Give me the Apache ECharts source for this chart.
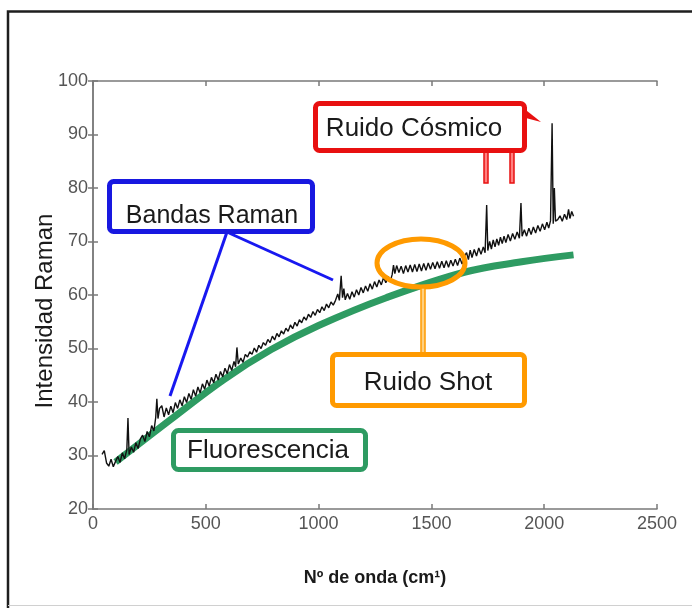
<!DOCTYPE html>
<html>
<head>
<meta charset="utf-8">
<script src="https://cdn.jsdelivr.net/npm/echarts@6/dist/echarts.min.js"></script>
<style>
  html, body { margin: 0; padding: 0; background: #fff; }
  #chart { width: 692px; height: 608px; }
</style>
</head>
<body>
<div id="chart"></div>
<script>
// Measured Raman spectrum (wavenumber in cm^-1, intensity)
const spectrumX = [
  40, 50, 60, 70, 80, 90, 100, 110, 120, 130, 140, 150, 155, 160, 170, 180, 190, 200, 210, 220,
  230, 240, 250, 260, 270, 278, 283, 288, 295, 305, 315, 325, 335, 345, 355, 365, 375, 385, 395, 405,
  415, 425, 435, 445, 455, 465, 475, 485, 495, 505, 515, 525, 535, 545, 555, 565, 575, 585, 595, 605,
  615, 625, 632, 638, 644, 655, 665, 675, 685, 695, 705, 715, 725, 735, 745, 755, 765, 775, 785, 795,
  805, 815, 825, 835, 845, 855, 865, 875, 885, 895, 905, 915, 925, 935, 945, 955, 965, 975, 985, 995,
  1005, 1015, 1025, 1035, 1045, 1055, 1065, 1075, 1085, 1092, 1100, 1106, 1112, 1118, 1128, 1138, 1148, 1158, 1168, 1178,
  1188, 1198, 1208, 1218, 1228, 1238, 1248, 1258, 1268, 1278, 1288, 1298, 1308, 1318, 1326, 1332, 1338, 1346, 1356, 1366,
  1376, 1386, 1396, 1406, 1416, 1426, 1436, 1446, 1456, 1466, 1476, 1486, 1496, 1506, 1516, 1526, 1536, 1546, 1556, 1566,
  1576, 1586, 1596, 1606, 1616, 1626, 1636, 1646, 1656, 1664, 1672, 1680, 1690, 1700, 1710, 1720, 1730, 1738, 1745, 1750,
  1758, 1766, 1774, 1782, 1790, 1798, 1806, 1814, 1822, 1830, 1840, 1850, 1860, 1870, 1880, 1890, 1897, 1902, 1912, 1922,
  1932, 1942, 1952, 1962, 1972, 1982, 1992, 2002, 2012, 2020, 2028, 2035, 2040, 2045, 2050, 2060, 2070, 2080, 2090, 2100,
  2108, 2114, 2122, 2130
];
const spectrumY = [
  30.2, 30.9, 28.6, 28.0, 29.3, 27.9, 28.9, 29.8, 28.7, 30.5, 29.4, 31.1, 37.0, 30.2, 31.6, 30.6, 32.4, 31.3, 33.1, 33.8,
  32.6, 34.5, 33.5, 35.6, 34.6, 37.1, 40.6, 36.9, 38.8, 39.3, 37.2, 38.9, 37.6, 39.2, 38.0, 39.9, 38.8, 40.4, 39.3, 41.0,
  39.9, 41.6, 40.5, 42.3, 41.1, 42.8, 41.7, 43.4, 42.4, 44.1, 43.0, 44.6, 43.6, 45.2, 44.1, 45.7, 44.7, 46.3, 45.3, 47.0,
  45.9, 47.6, 46.6, 50.2, 47.1, 48.2, 47.4, 48.9, 48.4, 49.4, 48.9, 50.1, 49.3, 50.6, 50.0, 51.1, 50.6, 51.7, 51.1, 52.3,
  51.6, 52.8, 52.2, 53.3, 52.7, 53.8, 53.2, 54.4, 53.7, 54.9, 54.2, 55.4, 54.8, 55.9, 55.3, 56.4, 55.8, 56.9, 56.2, 57.3,
  56.7, 57.8, 57.1, 58.3, 57.6, 58.7, 58.1, 59.0, 60.2, 59.0, 63.6, 59.5, 61.2, 59.1, 60.3, 59.2, 60.6, 59.6, 61.0, 60.0,
  61.4, 60.4, 61.7, 60.7, 62.1, 61.1, 62.5, 61.5, 62.8, 61.9, 63.3, 62.3, 63.5, 62.6, 63.8, 65.6, 64.0, 65.5, 64.2, 65.4,
  64.0, 65.5, 64.3, 65.6, 64.3, 65.7, 64.4, 65.8, 64.5, 65.9, 64.6, 66.0, 64.8, 66.1, 64.9, 66.2, 65.0, 66.3, 65.1, 66.4,
  65.2, 66.5, 65.4, 66.7, 65.5, 66.9, 65.8, 67.2, 67.9, 66.6, 68.4, 67.0, 68.5, 67.3, 68.8, 67.6, 69.0, 67.9, 76.8, 68.3,
  70.0, 68.6, 70.3, 69.0, 70.5, 69.3, 70.8, 69.6, 71.0, 69.8, 71.3, 70.1, 71.5, 70.4, 71.8, 70.6, 77.2, 71.0, 72.2, 71.0,
  72.5, 71.3, 72.7, 71.6, 73.0, 71.9, 73.3, 72.2, 73.6, 72.5, 73.9, 92.1, 73.3, 80.0, 73.8, 74.1, 74.8, 73.8, 75.1, 74.1,
  76.0, 74.3, 75.6, 74.7
];

// Fluorescence background estimate
const fluorX = [100, 340, 580, 790, 1000, 1300, 1650, 1900, 2130];
const fluorY = [28.8, 36.6, 44.2, 49.8, 54.3, 59.5, 64.3, 66.2, 67.5];

// Axis ticks
const xTicks = { min: 0, max: 2500, step: 500 };
const yTicks = { min: 20, max: 100, step: 10 };

const spectrum = spectrumX.map((x, i) => [x, spectrumY[i]]);
const fluorescence = fluorX.map((x, i) => [x, fluorY[i]]);

const FONT = '"Liberation Sans", Arial, sans-serif';
const AXIS_GRAY = '#7a7a7a';
const LABEL_GRAY = '#555';

function boxText(text, cx, cy, size) {
  return {
    type: 'text', z: 30,
    style: { text: text, x: cx, y: cy, fill: '#1a1a1a', font: size + 'px ' + FONT, textAlign: 'center', textVerticalAlign: 'middle' }
  };
}

const chart = echarts.init(document.getElementById('chart'), null, { renderer: 'canvas' });

const tickStyle = { show: true, inside: true, length: 5, lineStyle: { color: AXIS_GRAY, width: 1.5 } };
const lineStyle = { show: true, lineStyle: { color: AXIS_GRAY, width: 1.5 } };

chart.setOption({
  backgroundColor: '#fff',
  animation: false,
  grid: { left: 93, right: 35, top: 81, bottom: 99 },
  xAxis: [
    {
      type: 'value', min: xTicks.min, max: xTicks.max, interval: xTicks.step,
      name: 'Nº de onda (cm¹)', nameLocation: 'middle', nameGap: 60,
      nameTextStyle: { fontFamily: FONT, fontSize: 18, fontWeight: 'bold', color: '#1a1a1a' },
      axisLine: lineStyle, axisTick: tickStyle,
      axisLabel: { fontFamily: FONT, fontSize: 18, color: LABEL_GRAY, margin: 6, formatter: v => String(v) },
      splitLine: { show: false }
    },
    {
      type: 'value', position: 'top', min: xTicks.min, max: xTicks.max, interval: xTicks.step,
      axisLine: lineStyle, axisTick: tickStyle,
      axisLabel: { show: false }, splitLine: { show: false }
    }
  ],
  yAxis: [
    {
      type: 'value', min: yTicks.min, max: yTicks.max, interval: yTicks.step,
      axisLine: lineStyle, axisTick: tickStyle,
      axisLabel: { fontFamily: FONT, fontSize: 18, color: LABEL_GRAY, margin: 5 },
      splitLine: { show: false }
    },
    {
      type: 'value', position: 'right', min: yTicks.min, max: yTicks.max, interval: yTicks.step,
      axisLine: lineStyle, axisTick: tickStyle,
      axisLabel: { show: false }, splitLine: { show: false }
    }
  ],
  series: [
    {
      name: 'Fluorescencia', type: 'line', data: fluorescence, smooth: 0.4,
      showSymbol: false, z: 2,
      lineStyle: { color: '#2e9b62', width: 7, cap: 'butt' }
    },
    {
      name: 'Espectro', type: 'line', data: spectrum,
      showSymbol: false, z: 3,
      lineStyle: { color: '#111', width: 1.4 }
    }
  ],
  graphic: [
    // y-axis title
    {
      type: 'text', z: 30, x: 45, y: 311, rotation: Math.PI / 2,
      style: { text: 'Intensidad Raman', fill: '#1a1a1a', font: '24px ' + FONT, textAlign: 'center', textVerticalAlign: 'middle' }
    },

    // outer frame
    { type: 'polyline', z: 40, shape: { points: [[8, 608], [8, 11.5], [692, 11.5]] }, style: { stroke: '#1e1e1e', lineWidth: 2.5, fill: null } },
    { type: 'line', z: 40, shape: { x1: 8, y1: 605.5, x2: 692, y2: 605.5 }, style: { stroke: '#d0d0d0', lineWidth: 1 } },

    // Ruido Cósmico callout
    { type: 'rect', z: 20, shape: { x: 484, y: 150, width: 4, height: 33 }, style: { fill: '#ff8080', stroke: '#e81010', lineWidth: 1.5 } },
    { type: 'rect', z: 20, shape: { x: 510, y: 150, width: 4, height: 33 }, style: { fill: '#ff8080', stroke: '#e81010', lineWidth: 1.5 } },
    { type: 'polygon', z: 20, shape: { points: [[522, 107], [541, 122], [522, 117]] }, style: { fill: '#e81010' } },
    { type: 'rect', z: 21, shape: { x: 315.5, y: 103.5, width: 209, height: 47, r: 4 }, style: { fill: '#fff', stroke: '#e81010', lineWidth: 5 } },
    boxText('Ruido Cósmico', 414, 129, 26),

    // Bandas Raman callout
    { type: 'line', z: 20, shape: { x1: 227, y1: 232, x2: 170, y2: 396 }, style: { stroke: '#1818f0', lineWidth: 3 } },
    { type: 'line', z: 20, shape: { x1: 229, y1: 233, x2: 333, y2: 280 }, style: { stroke: '#1818f0', lineWidth: 3 } },
    { type: 'rect', z: 21, shape: { x: 109.5, y: 181.5, width: 203, height: 50, r: 4 }, style: { fill: '#fff', stroke: '#1818e0', lineWidth: 5 } },
    boxText('Bandas Raman', 212, 216, 25),

    // Ruido Shot callout
    { type: 'ellipse', z: 20, shape: { cx: 421, cy: 263, rx: 44, ry: 24 }, style: { fill: null, stroke: '#ff9a00', lineWidth: 5 } },
    { type: 'rect', z: 20, shape: { x: 421, y: 288, width: 4, height: 66 }, style: { fill: '#ffd080', stroke: '#ff9a00', lineWidth: 1.5 } },
    { type: 'rect', z: 21, shape: { x: 332.5, y: 354.5, width: 192, height: 51, r: 4 }, style: { fill: '#fff', stroke: '#ff9a00', lineWidth: 5 } },
    boxText('Ruido Shot', 428, 383, 26),

    // Fluorescencia callout
    { type: 'rect', z: 21, shape: { x: 173.5, y: 430.5, width: 192, height: 39, r: 5 }, style: { fill: '#fff', stroke: '#2e9b62', lineWidth: 5 } },
    boxText('Fluorescencia', 268, 451, 26)
  ]
});
</script>
</body>
</html>
